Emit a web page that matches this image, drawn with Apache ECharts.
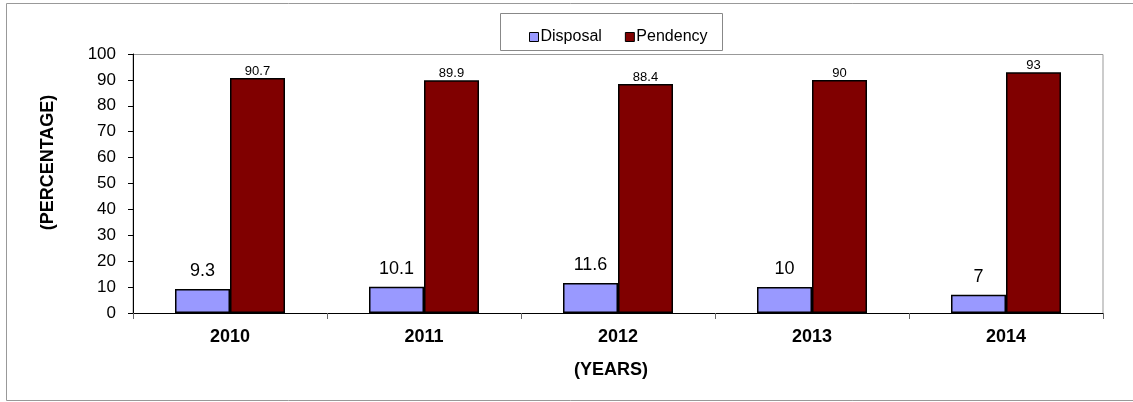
<!DOCTYPE html>
<html><head><meta charset="utf-8">
<script src="https://cdn.jsdelivr.net/npm/echarts@6/dist/echarts.min.js"></script>
<style>html,body{margin:0;padding:0;background:#fff}#c{width:1133px;height:402px}</style>
</head><body><div id="c"></div>
<script>
const categories = ['2010','2011','2012','2013','2014'];
const disposal = [9.3, 10.1, 11.6, 10, 7];
const pendency = [90.7, 89.9, 88.4, 90, 93];
const yTicks = [0,10,20,30,40,50,60,70,80,90,100];

const chart = echarts.init(document.getElementById('c'));
const F = 'Liberation Sans, Arial, sans-serif';
chart.setOption({
  animation: false,
  graphic: [
    {type:'rect', shape:{x:6.5,y:3.5,width:1140,height:397}, style:{fill:'none', stroke:'#999', lineWidth:1}, z:-1},
    {type:'rect', shape:{x:500.5,y:13.5,width:222,height:37}, style:{fill:'#fff', stroke:'#888', lineWidth:1}, z:0},
    {type:'rect', shape:{x:133,y:54.5,width:970,height:259}, style:{fill:'none', stroke:'#999', lineWidth:1}, z:-1}
  ],
  legend: {
    top: 24, left: 524, itemWidth: 9, itemHeight: 9, itemGap: 23, icon: 'rect',
    itemStyle: {borderColor: '#000', borderWidth: 1},
    textStyle: {fontFamily: F, fontSize: 16, color: '#000', padding:[0,0,0,-3]},
    data: ['Disposal','Pendency'], z: 5
  },
  grid: {left: 133, right: 30, top: 54, bottom: 89},
  xAxis: {
    type: 'category', data: categories,
    axisLine: {lineStyle: {color: '#000'}},
    axisTick: {show: true, length: 6, lineStyle:{color:'#666'}},
    axisLabel: {fontFamily: F, fontSize: 18, fontWeight: 'bold', color: '#000', margin: 15},
    name: '(YEARS)', nameLocation: 'middle', nameGap: 48,
    nameTextStyle: {fontFamily: F, fontSize: 18, fontWeight: 'bold', color: '#000', padding:[0,14,0,0]}
  },
  yAxis: {
    type: 'value', min: 0, max: 100, interval: 10,
    axisLine: {show: true, lineStyle: {color: '#000'}},
    axisTick: {show: true, length: 5, lineStyle:{color:'#000'}},
    splitLine: {show: false},
    axisLabel: {fontFamily: F, fontSize: 17, color: '#000', margin: 17},
    name: '(PERCENTAGE)', nameLocation: 'middle', nameGap: 76, nameRotate: 90,
    nameTextStyle: {fontFamily: F, fontSize: 18, fontWeight: 'bold', color: '#000', padding:[0,0,0,42]}
  },
  series: [
    {name: 'Disposal', type: 'bar', data: disposal, barWidth: 55, barGap: '0%', barCategoryGap: '43%',
     itemStyle: {color: '#9999ff', borderColor: '#000', borderWidth: 1.5},
     label: {show: true, position: 'top', distance: 9, fontFamily: F, fontSize: 18, color: '#000'}},
    {name: 'Pendency', type: 'bar', data: pendency, barWidth: 55,
     itemStyle: {color: '#800000', borderColor: '#000', borderWidth: 1.5},
     label: {show: true, position: 'top', distance: 0, fontFamily: F, fontSize: 13, color: '#000'}}
  ]
});
</script></body></html>
